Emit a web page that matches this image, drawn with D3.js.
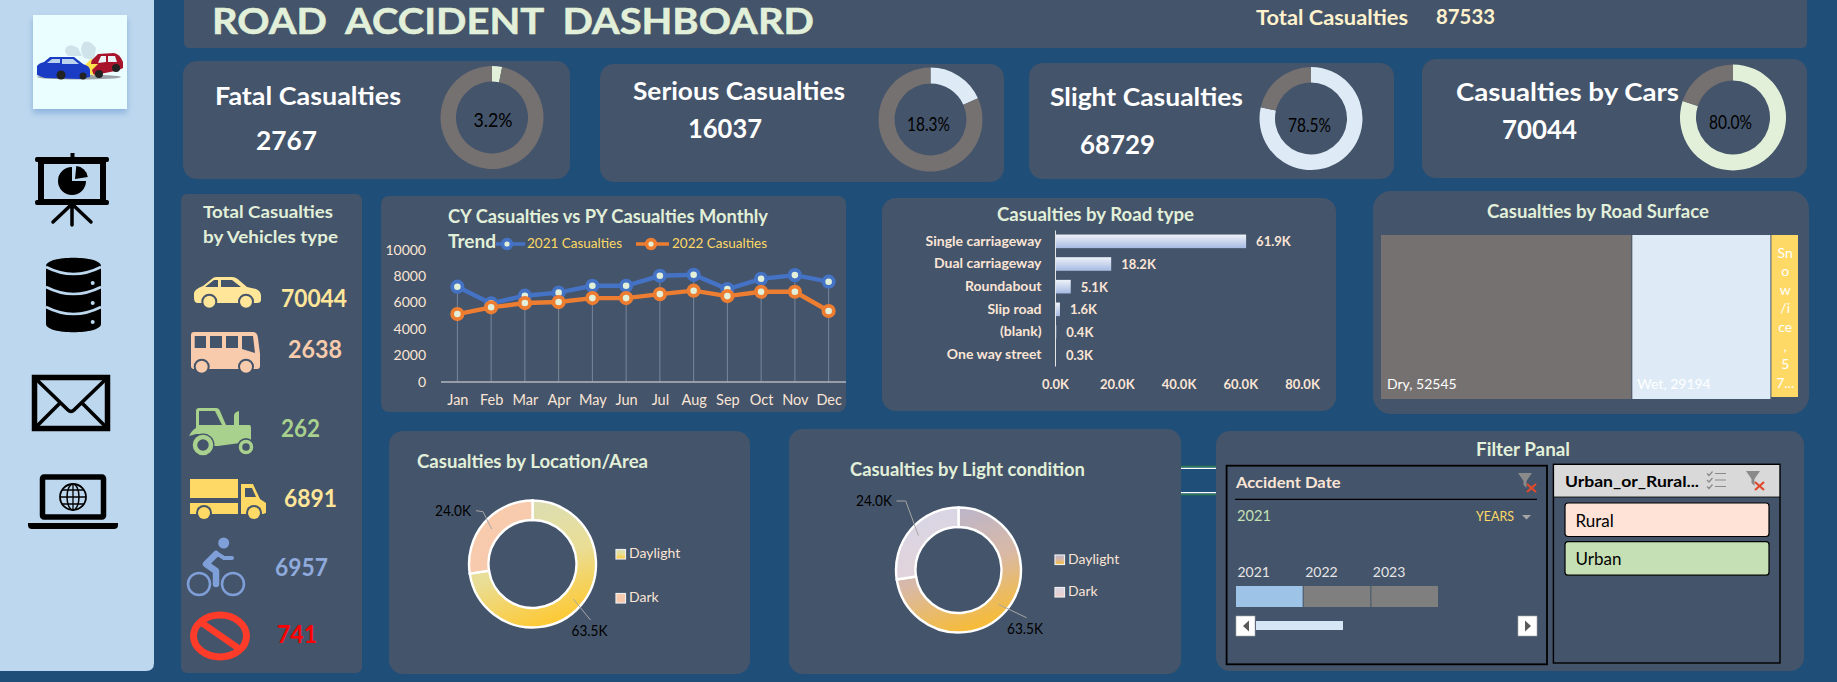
<!DOCTYPE html>
<html>
<head>
<meta charset="utf-8">
<title>Road Accident Dashboard</title>
<script src="https://cdn.jsdelivr.net/npm/d3@7"></script>
<style>
html,body{margin:0;padding:0;background:#1F4E79;overflow:hidden}
svg{display:block}
text{font-family:Lato,"Open Sans",sans-serif;white-space:pre}
</style>
</head>
<body>
<script>
// ---------- data ----------
const dashboardTitle = "ROAD  ACCIDENT  DASHBOARD";
const totalCasualties = 87533;
const kpiNames = ["Fatal Casualties", "Serious Casualties", "Slight Casualties", "Casualties by Cars"];
const kpiValues = [2767, 16037, 68729, 70044];
const kpiShares = [3.2, 18.3, 78.5, 80.0];

const vehicleValues = [70044, 2638, 262, 6891, 6957, 741];

const months = ["Jan","Feb","Mar","Apr","May","Jun","Jul","Aug","Sep","Oct","Nov","Dec"];
const casualties2021 = [7180,5920,6500,6730,7250,7250,8010,8085,7000,7780,8060,7560];
const casualties2022 = [5110,5620,5945,6020,6320,6320,6620,6880,6470,6800,6800,5340];
const lineTicks = [0,2000,4000,6000,8000,10000];
const lineSeriesNames = ["2021 Casualties","2022 Casualties"];

const roadTypes = ["Single carriageway","Dual carriageway","Roundabout","Slip road","(blank)","One way street"];
const roadValues = [61900,18200,5100,1600,400,300];
const roadTicks = [0,20000,40000,60000,80000];

const surfaceNames = ["Dry","Wet","Snow/Ice"];
const surfaceValues = [52545,29194,5794];
const snowLabelLines = ["Sn","o","w","/i","ce",",","5","7..."];

const donutLabels = ["Daylight","Dark"];
const areaValues = [63500,24000];
const lightValues = [63500,24000];

const yearLabels = ["2021","2022","2023"];
const areaSlicerItems = ["Rural","Urban"];

// ---------- palette ----------
const BG="#1F4E79", PANEL="#44546A", SIDE="#BDD7EE", GREY="#767171", GREEN="#E2F0D9", PALE="#DEEBF7", PEACH="#FBE5D6";

const svg = d3.select("body").append("svg").attr("width",1837).attr("height",682).attr("viewBox","0 0 1837 682");
const defs = svg.append("defs");
svg.append("rect").attr("width",1837).attr("height",682).attr("fill",BG);

function T(g,x,y,s,o={}){
  const t=g.append("text").attr("x",x).attr("y",y).text(s)
    .attr("font-size",o.size||14).attr("font-weight",o.weight||400)
    .attr("fill",o.fill||"#fff").attr("text-anchor",o.anchor||"start");
  if(o.w) t.attr("textLength",o.w).attr("lengthAdjust","spacingAndGlyphs");
  return t;
}
function panel(x0,y0,x1,y1,r=12){
  svg.append("rect").attr("x",x0).attr("y",y0).attr("width",x1-x0).attr("height",y1-y0).attr("rx",r).attr("ry",r).attr("fill",PANEL);
}
function grad(id,x1,y1,x2,y2,stops){
  const g=defs.append("linearGradient").attr("id",id).attr("gradientUnits","userSpaceOnUse")
    .attr("x1",x1).attr("y1",y1).attr("x2",x2).attr("y2",y2);
  stops.forEach((c,i)=>g.append("stop").attr("offset",i/(stops.length-1)).attr("stop-color",c));
}

// ---------- sidebar ----------
svg.append("path").attr("fill",SIDE).attr("d","M0,0H154V663Q154,671 146,671H0Z");
const side=svg.append("g");
defs.append("filter").attr("id","sh").attr("x","-20%").attr("y","-20%").attr("width","140%").attr("height","140%")
  .append("feDropShadow").attr("dx",0).attr("dy",4).attr("stdDeviation",3).attr("flood-color","#7FA8D8").attr("flood-opacity",.8);
side.append("rect").attr("x",33).attr("y",15).attr("width",94).attr("height",94).attr("fill","#EAFEFF").attr("filter","url(#sh)");
// crash logo
const logo=side.append("g");
logo.append("ellipse").attr("cx",79).attr("cy",77).attr("rx",42).attr("ry",2.5).attr("fill","#9AA3A8");
logo.append("path").attr("fill","#CFE4EA").attr("d","M68,56 Q62,50 68,46 Q72,44 78,48 L82,56Z M84,58 Q78,48 84,42 Q90,40 96,48 L94,60Z");
logo.append("path").attr("fill","#A8142C").attr("d","M90,72 L90,62 L98,54 L114,53 Q120,54 123,62 L123,68 Q120,70 115,71 L95,75Z");
logo.append("path").attr("fill","#E9F3F8").attr("d","M101,56 L106,56 L106,62 L98,63Z M108,56 L115,56 L117,62 L108,62Z");
logo.append("circle").attr("cx",116).attr("cy",68).attr("r",4).attr("fill","#222");
logo.append("circle").attr("cx",99).attr("cy",74).attr("r",4).attr("fill","#222");
logo.append("path").attr("fill","#FFE14D").attr("d","M84,66 L92,58 L91,64 L98,64 L92,70 L94,76 L87,72Z");
logo.append("path").attr("fill","#1A3CC4").attr("d","M37,75 L37,66 Q39,63 44,62 L50,57 L74,57 L83,64 Q90,66 90,70 L90,77 L80,79 L45,78Z");
logo.append("path").attr("fill","#BCD3F0").attr("d","M47,63 L52,59 L60,59 L60,63Z M62,59 L73,59 L79,64 L62,64Z");
logo.append("circle").attr("cx",61).attr("cy",75).attr("r",4.5).attr("fill","#222");
logo.append("circle").attr("cx",83).attr("cy",76).attr("r",3.5).attr("fill","#222");

// presentation icon
const pres=side.append("g");
pres.append("rect").attr("x",70.5).attr("y",153).attr("width",4).attr("height",6).attr("fill","#000");
pres.append("rect").attr("x",35).attr("y",157).attr("width",74).attr("height",5).attr("rx",2).attr("fill","#000");
pres.append("rect").attr("x",41).attr("y",161).attr("width",62).attr("height",41).attr("fill","none").attr("stroke","#000").attr("stroke-width",6);
pres.append("rect").attr("x",35).attr("y",200).attr("width",74).attr("height",5).attr("rx",2).attr("fill","#000");
pres.append("path").attr("d","M72,204 L53,222 M72,204 V225 M72,204 L91,222").attr("stroke","#000").attr("stroke-width",3.5).attr("stroke-linecap","round").attr("fill","none");
pres.append("path").attr("fill","#000").attr("d",d3.arc().innerRadius(0).outerRadius(14)({startAngle:Math.PI*0.5,endAngle:Math.PI*2})).attr("transform","translate(72,181)");
pres.append("path").attr("fill","#000").attr("d",d3.arc().innerRadius(0).outerRadius(13)({startAngle:0.1,endAngle:Math.PI*0.45})).attr("transform","translate(75,179)");

// database icon
const db=side.append("g");
db.append("path").attr("fill","#000").attr("d","M46,266 C46,255 101,255 101,266 V324 C101,335 46,335 46,324Z");
db.append("path").attr("fill","none").attr("stroke",SIDE).attr("stroke-width",2.6)
  .attr("d","M46,267 Q73.5,281 101,267 M46,287 Q73.5,301 101,287 M46,307 Q73.5,321 101,307");
[283,303,322].forEach(y=>db.append("circle").attr("cx",92.7).attr("cy",y).attr("r",2).attr("fill",SIDE));

// envelope icon
const env=side.append("g");
env.append("rect").attr("x",34.5).attr("y",377.5).attr("width",73).attr("height",51).attr("fill","none").attr("stroke","#000").attr("stroke-width",5.5);
env.append("path").attr("fill","none").attr("stroke","#000").attr("stroke-width",3.6)
  .attr("d","M37,380 L68,410 Q71,413 74,410 L105,380 M37,426 L60,403 M105,426 L82,403");

// laptop icon
const lap=side.append("g");
lap.append("rect").attr("x",42.5).attr("y",477).attr("width",61).attr("height",40).attr("rx",1.5).attr("fill","none").attr("stroke","#000").attr("stroke-width",5.5);
lap.append("path").attr("fill","#000").attr("d","M28,523H118V525Q118,529 114,529H32Q28,529 28,525Z");
lap.append("circle").attr("cx",73).attr("cy",497).attr("r",13).attr("fill","none").attr("stroke","#000").attr("stroke-width",1.8);
lap.append("ellipse").attr("cx",73).attr("cy",497).attr("rx",6).attr("ry",13).attr("fill","none").attr("stroke","#000").attr("stroke-width",1.5);
lap.append("path").attr("d","M73,484V510M60,497H86M62,490H84M62,504H84").attr("fill","none").attr("stroke","#000").attr("stroke-width",1.3);

// ---------- header ----------
svg.append("path").attr("fill",PANEL).attr("d","M184,0H1807V42Q1807,48 1801,48H190Q184,48 184,42Z");
T(svg,212,34,dashboardTitle,{size:35.5,weight:700,fill:GREEN,w:602}).attr("stroke",GREEN).attr("stroke-width",.5);
T(svg,1256,25,"Total Casualties",{size:20,weight:700,fill:"#FFF2CC",w:152});
T(svg,1436,24,String(totalCasualties),{size:20,weight:700,fill:"#FFF2CC",w:59});

// ---------- KPI cards ----------
const kpiCards=[
 {box:[183,61,570,179],c:[492,117.5],R:51.5,r:36,col:GREEN,name:[215,105,186],val:[256,150,61],pct:[473.5,127,39]},
 {box:[600,64,1004,182],c:[930.5,119.5],R:52,r:36,col:PALE,name:[633,100,212],val:[688,138,74],pct:[907,131,43]},
 {box:[1029,63,1394,179],c:[1311,118.5],R:51.5,r:36,col:PALE,name:[1050,106,193],val:[1080,154,75],pct:[1288,132,43]},
 {box:[1422,59,1807,178],c:[1733,117.5],R:53,r:37,col:GREEN,name:[1456,101,223],val:[1502,139,75],pct:[1709,129,43]}
];
kpiCards.forEach((k,i)=>{
  panel(k.box[0],k.box[1],k.box[2],k.box[3],14);
  const pie=d3.pie().sort(null)([kpiValues[i],totalCasualties-kpiValues[i]]);
  const arc=d3.arc().innerRadius(k.r).outerRadius(k.R);
  const g=svg.append("g").attr("transform",`translate(${k.c})`);
  g.selectAll("path").data(pie).join("path").attr("d",arc).attr("fill",(d,j)=>j===0?k.col:GREY);
  T(svg,k.name[0],k.name[1],kpiNames[i],{size:25,weight:700,w:k.name[2]});
  T(svg,k.val[0],k.val[1],String(kpiValues[i]),{size:26,weight:700,w:k.val[2]});
  T(svg,k.pct[0],k.pct[1],kpiShares[i].toFixed(1)+"%",{size:19,fill:"#000",w:k.pct[2]});
});

// ---------- vehicles ----------
panel(181,194,362,673,6);
T(svg,203,218,"Total Casualties",{size:17,weight:700,fill:GREEN,w:130});
T(svg,203,243,"by Vehicles type",{size:17,weight:700,fill:GREEN,w:135});
const vehicleLabelLayout=[[281,307,66,"#FFE699"],[288,358,54,"#F8CBAD"],[281,437,39,"#A9D18E"],[284,507,53,"#FFE699"],[275,576,53,"#8FAADC"],[277,643,40,"#FF0000"]];
vehicleValues.forEach((v,i)=>{
  const l=vehicleLabelLayout[i];
  T(svg,l[0],l[1],String(v),{size:25,weight:700,fill:l[3],w:l[2]});
});
const ic=svg.append("g");
// car
ic.append("path").attr("fill","#FFE699").attr("d","M198,303Q194,303 194,298V293Q195,289 203,286L213,278Q214,277 217,277H232Q236,277 240,281L247,287L256,289Q261,291 261,296V300Q261,303 257,303Z");
ic.append("path").attr("fill",PANEL).attr("d","M205,287L214,280H218V287ZM221,280H232L241,287H221Z");
[[209.3,301.7],[246,301.7]].forEach(c=>{ic.append("circle").attr("cx",c[0]).attr("cy",c[1]).attr("r",8).attr("fill",PANEL);ic.append("circle").attr("cx",c[0]).attr("cy",c[1]).attr("r",6).attr("fill","#FFE699");});
// bus
ic.append("path").attr("fill","#F8CBAD").attr("d","M194,332H253Q257,332 258,338L260,354V366Q260,369 257,369H194Q191,369 191,366V335Q191,332 194,332Z");
ic.append("path").attr("fill",PANEL).attr("d","M194.7,336H206V348H194.7ZM210,336H222V348H210ZM226,336H238V348H226ZM242,336H253L255,353L242,349Z");
[[201.7,366.7],[246,366.7]].forEach(c=>{ic.append("circle").attr("cx",c[0]).attr("cy",c[1]).attr("r",8).attr("fill",PANEL);ic.append("circle").attr("cx",c[0]).attr("cy",c[1]).attr("r",6).attr("fill","#F8CBAD");});
// tractor
ic.append("path").attr("fill","#A9D18E").attr("d","M196,425V411Q196,408 199,408H216Q219,408 220,411L226,425H234V416Q234,412 239,411V425L250,425Q251,426 251,428V441L240,443L218,446H212L207,434H196L189,436Q192,430 196,428Z");
ic.append("path").attr("fill",PANEL).attr("d","M199,411H215L222,425H199Z");
ic.append("circle").attr("cx",203).attr("cy",445).attr("r",11.5).attr("fill",PANEL);
ic.append("circle").attr("cx",203).attr("cy",445).attr("r",8).attr("fill",PANEL).attr("stroke","#A9D18E").attr("stroke-width",4.5);
ic.append("circle").attr("cx",246).attr("cy",447).attr("r",9).attr("fill",PANEL);
ic.append("circle").attr("cx",246).attr("cy",447).attr("r",5.5).attr("fill",PANEL).attr("stroke","#A9D18E").attr("stroke-width",3.5);
// truck
ic.append("path").attr("fill","#FFD966").attr("d","M190,479H238V498H190ZM190,503H238V514H190ZM241,484H253L260,499L266,503V513L263,514H241Z");
ic.append("path").attr("fill",PANEL).attr("d","M245,488H252L256,497H245Z");
[[204,513],[254,513]].forEach(c=>{ic.append("circle").attr("cx",c[0]).attr("cy",c[1]).attr("r",8).attr("fill",PANEL);ic.append("circle").attr("cx",c[0]).attr("cy",c[1]).attr("r",6).attr("fill","#FFD966");});
// bike
const BK="#7F9FD8";
ic.append("circle").attr("cx",223.7).attr("cy",543).attr("r",5.5).attr("fill",BK);
[[199,584],[233,584]].forEach(c=>ic.append("circle").attr("cx",c[0]).attr("cy",c[1]).attr("r",11).attr("fill","none").attr("stroke",BK).attr("stroke-width",2.5));
ic.append("path").attr("fill","none").attr("stroke",BK).attr("stroke-width",6.5).attr("stroke-linecap","round").attr("stroke-linejoin","round").attr("d","M216,554L206,564L216,571V584");
ic.append("path").attr("fill","none").attr("stroke",BK).attr("stroke-width",4).attr("stroke-linecap","round").attr("d","M216,553L224,558H232");
// no-entry
ic.append("ellipse").attr("cx",220).attr("cy",636).attr("rx",26.5).attr("ry",21).attr("fill","none").attr("stroke","#FF3B2A").attr("stroke-width",7);
ic.append("path").attr("d","M202,623L238,648").attr("stroke","#FF3B2A").attr("stroke-width",6.5);

// ---------- line chart ----------
panel(381,196,846,412,8);
T(svg,448,223,"CY Casualties vs PY Casualties Monthly",{size:18.5,weight:700,fill:GREEN,w:320});
T(svg,448,248,"Trend",{size:18.5,weight:700,fill:GREEN,w:48});
const x=d3.scalePoint().domain(months).range([440.5,845.5]).padding(.5);
const y=d3.scaleLinear().domain([0,10000]).range([381.5,249.5]);
const lineG=svg.append("g");
lineG.selectAll("line.drop").data(months).join("line").attr("class","drop")
  .attr("x1",d=>x(d)).attr("x2",d=>x(d))
  .attr("y1",(d,i)=>y(Math.max(casualties2021[i],casualties2022[i]))).attr("y2",y(0))
  .attr("stroke","#78879A").attr("stroke-width",1);
const yAx=lineG.append("g").attr("transform","translate(440.5,0)").call(d3.axisLeft(y).tickValues(lineTicks).tickSize(0).tickPadding(14.5).tickFormat(d3.format("d")));
yAx.select(".domain").remove();
yAx.selectAll("text").attr("font-family","Lato").attr("font-size",14).attr("fill",PEACH).attr("dy",".33em");
const xAx=lineG.append("g").attr("transform","translate(0,381.5)").call(d3.axisBottom(x).tickSize(0).tickPadding(13));
xAx.select(".domain").attr("stroke","#E7E6E6").attr("stroke-width",1.2);
xAx.selectAll("text").attr("font-family","Lato").attr("font-size",14.5).attr("fill",PEACH);
const lineGen=d3.line().x((d,i)=>x(months[i])).y(d=>y(d));
const lineCols=["#4472C4","#ED7D31"];
[casualties2021,casualties2022].forEach((s,k)=>{
  lineG.append("path").datum(s).attr("d",lineGen).attr("fill","none").attr("stroke",lineCols[k]).attr("stroke-width",4.4);
  lineG.selectAll("circle.m"+k).data(s).join("circle").attr("class","m"+k)
    .attr("cx",(d,i)=>x(months[i])).attr("cy",d=>y(d)).attr("r",5.2)
    .attr("fill",GREEN).attr("stroke",lineCols[k]).attr("stroke-width",3.8);
});
[[496,525,507,527],[636,669,651,672]].forEach((l,k)=>{
  lineG.append("line").attr("x1",l[0]).attr("x2",l[1]).attr("y1",244).attr("y2",244).attr("stroke",lineCols[k]).attr("stroke-width",3.5);
  lineG.append("circle").attr("cx",l[2]).attr("cy",244).attr("r",4.4).attr("fill",GREEN).attr("stroke",lineCols[k]).attr("stroke-width",3.6);
  T(lineG,l[3],248,lineSeriesNames[k],{size:14,fill:"#FFD966",w:95});
});

// ---------- road type bars ----------
panel(882,198,1336,411,14);
T(svg,997,221,"Casualties by Road type",{size:18,weight:700,fill:GREEN,w:197});
const bx=d3.scaleLinear().domain([0,80000]).range([1055,1302]);
const by=d3.scaleBand().domain(roadTypes).range([230,366]).paddingInner(.4).paddingOuter(.2);
roadTypes.forEach((r,i)=>grad("bar"+i,0,by(r),0,by(r)+by.bandwidth(),["#EEF2F9","#A6BAE2"]));
const barG=svg.append("g");
barG.selectAll("rect").data(roadValues).join("rect")
  .attr("x",bx(0)).attr("y",(d,i)=>by(roadTypes[i])).attr("height",by.bandwidth())
  .attr("width",d=>bx(d)-bx(0)).attr("fill",(d,i)=>`url(#bar${i})`);
const fmtK=d=>(d/1000).toFixed(1)+"K";
barG.selectAll("text.v").data(roadValues).join("text").attr("class","v")
  .attr("x",d=>bx(d)+10).attr("y",(d,i)=>by(roadTypes[i])+by.bandwidth()/2+5).text(fmtK)
  .attr("font-size",13).attr("font-weight",700).attr("fill",PEACH);
const bYAx=barG.append("g").attr("transform",`translate(${bx(0)},0)`).call(d3.axisLeft(by).tickSize(0).tickPadding(13.5));
bYAx.select(".domain").attr("stroke","#E7E6E6").attr("stroke-width",1);
bYAx.selectAll("text").attr("font-family","Lato").attr("font-size",14).attr("font-weight",700).attr("fill",PEACH);
const bXAx=barG.append("g").attr("transform","translate(0,375)").call(d3.axisBottom(bx).tickValues(roadTicks).tickSize(0).tickPadding(5).tickFormat(fmtK));
bXAx.select(".domain").remove();
bXAx.selectAll("text").attr("font-family","Lato").attr("font-size",13).attr("font-weight",700).attr("fill",PEACH);

// ---------- road surface treemap ----------
panel(1373,191,1809,414,18);
T(svg,1487,218,"Casualties by Road Surface",{size:18,weight:700,fill:GREEN,w:222});
const root=d3.hierarchy({children:surfaceNames.map((n,i)=>({name:n,value:surfaceValues[i]}))}).sum(d=>d.value);
d3.treemap().size([417,164]).tile(d3.treemapDice)(root);
const surfCols=[GREY,PALE,"#FFD966"];
const tm=svg.append("g").attr("transform","translate(1381,235)");
tm.selectAll("rect").data(root.leaves()).join("rect")
  .attr("x",d=>d.x0+(d.data.name==="Dry"?0:1)).attr("y",d=>d.y0)
  .attr("width",d=>d.x1-d.x0-(d.data.name==="Dry"?0:1))
  .attr("height",d=>d.data.name==="Snow/Ice"?162:d.y1-d.y0)
  .attr("fill",(d,i)=>surfCols[i]);
tm.selectAll("text.l").data(root.leaves().slice(0,2)).join("text").attr("class","l")
  .attr("x",d=>d.x0+6).attr("y",154).text(d=>`${d.data.name}, ${d.data.value}`)
  .attr("font-size",14).attr("fill","#fff");
const snowLeaf=root.leaves()[2];
tm.selectAll("text.s").data(snowLabelLines).join("text").attr("class","s")
  .attr("x",(snowLeaf.x0+snowLeaf.x1)/2+1).attr("y",(d,i)=>22.5+i*18.6).attr("text-anchor","middle")
  .text(d=>d).attr("font-size",14).attr("fill","#fff");

// ---------- donuts ----------
function donut(cfg){
  panel(...cfg.box,14);
  T(svg,cfg.title[0],cfg.title[1],cfg.name,{size:18,weight:700,fill:GREEN,w:cfg.title[2]});
  const [cx,cy]=cfg.c;
  cfg.grads.forEach((g,i)=>grad(cfg.id+i,-22,-cfg.R,22,cfg.R,g));
  const pie=d3.pie().sort(null)(cfg.values);
  const arc=d3.arc().innerRadius(cfg.r).outerRadius(cfg.R);
  const lab=d3.arc().innerRadius((cfg.R+cfg.r)/2).outerRadius((cfg.R+cfg.r)/2);
  const g=svg.append("g").attr("transform",`translate(${cx},${cy})`);
  g.selectAll("path.s").data(pie).join("path").attr("class","s").attr("d",arc)
    .attr("fill",(d,i)=>`url(#${cfg.id}${i})`).attr("stroke","#fff").attr("stroke-width",2.4);
  pie.forEach((p,i)=>{
    const c=lab.centroid(p), l=cfg.leaders[i];
    g.append("polyline").attr("points",[c,...l.pts].map(q=>q.join(",")).join(" "))
      .attr("fill","none").attr("stroke","#A6A6A6").attr("stroke-width",1);
    T(g,l.text[0],l.text[1],fmtK(cfg.values[i]),{size:14.5,fill:"#000",anchor:l.anchor,w:36});
  });
  donutLabels.forEach((n,i)=>{
    const s=cfg.legend[i];
    grad(`${cfg.id}L${i}`,0,s[1],0,s[1]+9.5,cfg.grads[i]);
    svg.append("rect").attr("x",s[0]).attr("y",s[1]).attr("width",9.5).attr("height",9.5).attr("fill",`url(#${cfg.id}L${i})`).attr("stroke","#EDEDED").attr("stroke-width",1.2);
    T(svg,s[0]+13,s[1]+8.5,n,{size:14,fill:PEACH});
  });
}
donut({id:"area",box:[389,431,750,674],name:"Casualties by Location/Area",title:[417,468,231],c:[532.5,564],R:63.5,r:44,
  values:areaValues,grads:[["#D9DDB6","#E9DE96","#FFC72C"],["#F8CBAD","#F6C9AE"]],
  leaders:[{pts:[[58,56]],text:[57,72],anchor:"middle"},{pts:[[-49.5,-52.3],[-56.5,-53.3]],text:[-61.5,-48],anchor:"end"}],
  legend:[[616,549.5],[616,593.5]]});
donut({id:"light",box:[789,429,1181,674],name:"Casualties by Light condition",title:[850,476,235],c:[958.5,570],R:62.5,r:43,
  values:lightValues,grads:[["#B7B4CE","#D9B9A6","#F9BC2D"],["#D8D6E6","#EFCFC8"]],
  leaders:[{pts:[[68,47.7]],text:[66.5,64],anchor:"middle"},{pts:[[-52.8,-69],[-62,-69]],text:[-66.5,-64],anchor:"end"}],
  legend:[[1055,555],[1055,587.5]]});

// connector lines between panels
[[468.3,466.6],[492.7,494.4]].forEach(l=>{
  svg.append("line").attr("x1",1181).attr("x2",1216).attr("y1",l[1]).attr("y2",l[1]).attr("stroke","#2E7D4F").attr("stroke-width",1.5);
  svg.append("line").attr("x1",1181).attr("x2",1216).attr("y1",l[0]).attr("y2",l[0]).attr("stroke","#fff").attr("stroke-width",1.2);
});

// ---------- filter panel ----------
panel(1216,431,1804,671,14);
T(svg,1476,455.7,"Filter Panal",{size:19,weight:700,fill:GREEN,w:94});
function filterIcon(g,x0,y0){
  g.append("path").attr("fill","#8A8A8A").attr("d",`M${x0},${y0}H${x0+14}L${x0+8.5},${y0+8}V${y0+15}L${x0+5.5},${y0+12}V${y0+8}Z`);
  g.append("path").attr("stroke","#E0492B").attr("stroke-width",2.2).attr("fill","none").attr("d",`M${x0+9},${y0+11}L${x0+18},${y0+19}M${x0+18},${y0+11}L${x0+9},${y0+19}`);
}
const f=svg.append("g");
f.append("rect").attr("x",1226.6).attr("y",465.7).attr("width",320.4).attr("height",198.6).attr("fill","none").attr("stroke","#000").attr("stroke-width",1.8);
T(f,1236,487.7,"Accident Date",{size:15.5,weight:700,fill:PEACH,w:104.6});
filterIcon(f,1518,473);
f.append("line").attr("x1",1235).attr("x2",1537).attr("y1",499.3).attr("y2",499.3).attr("stroke","#000").attr("stroke-width",1.2);
T(f,1237,521,yearLabels[0],{size:16,fill:"#C5E0B4",w:34});
T(f,1476,521,"YEARS",{size:13,fill:"#FFD966",w:38});
f.append("path").attr("fill","#A6A6A6").attr("d","M1522,515H1531L1526.5,519.5Z");
const yb=d3.scaleBand().domain(yearLabels).range([1236,1438]).paddingInner(.015);
f.selectAll("rect.yr").data(yearLabels).join("rect").attr("class","yr")
  .attr("x",d=>yb(d)).attr("y",586).attr("width",yb.bandwidth()).attr("height",21)
  .attr("fill",(d,i)=>i===0?"#9DC3E6":"#7F7F7F");
f.selectAll("text.yr").data(yearLabels).join("text").attr("class","yr")
  .attr("x",d=>yb(d)+1.5).attr("y",577).text(d=>d).attr("font-size",14).attr("fill","#E7E6E6");
f.append("rect").attr("x",1236).attr("y",616).attr("width",19).attr("height",20).attr("fill","#fff").attr("stroke","#A6A6A6").attr("stroke-width",.6);
f.append("path").attr("d","M1249,620.5V631.5L1243,626Z").attr("fill","#595959");
f.append("rect").attr("x",1256).attr("y",621).attr("width",87).attr("height",9).attr("fill","#D6E6F4");
f.append("rect").attr("x",1518).attr("y",616).attr("width",19).attr("height",20).attr("fill","#fff").attr("stroke","#A6A6A6").attr("stroke-width",.6);
f.append("path").attr("d","M1525,620.5V631.5L1531,626Z").attr("fill","#595959");

f.append("rect").attr("x",1553.4).attr("y",464.3).attr("width",226.6).attr("height",32.7).attr("fill","#D9D9D9");
f.append("rect").attr("x",1553.4).attr("y",464.3).attr("width",226.6).attr("height",198.7).attr("fill","none").attr("stroke","#000").attr("stroke-width",1.4);
f.append("line").attr("x1",1553.4).attr("x2",1780).attr("y1",497).attr("y2",497).attr("stroke","#000").attr("stroke-width",.8);
T(f,1565,486.7,"Urban_or_Rural...",{size:15.5,weight:700,fill:"#000",w:134});
[473.5,480,486.5].forEach(yy=>{
  f.append("path").attr("fill","none").attr("stroke","#8A8A8A").attr("stroke-width",1.2).attr("d",`M1707,${yy}l2,2l3.5,-4M1715,${yy}H1726`);
});
filterIcon(f,1746,471);
[[503,"#FEE3D6",526.7],[541.7,"#C5E0B4",565]].forEach((b,i)=>{
  f.append("rect").attr("x",1565).attr("y",b[0]).attr("width",204).attr("height",33.5).attr("rx",3).attr("fill",b[1]).attr("stroke","#000").attr("stroke-width",1.2);
  T(f,1575.5,b[2],areaSlicerItems[i],{size:17,fill:"#000"});
});
</script>
</body>
</html>
